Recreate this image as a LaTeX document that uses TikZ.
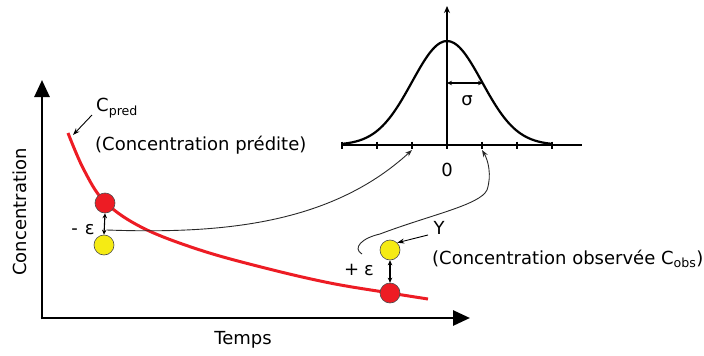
\documentclass[tikz,border=0pt]{standalone}
\usepackage{fontspec}
\setmainfont{DejaVu Sans}
\usetikzlibrary{arrows.meta}
\definecolor{predred}{RGB}{237,28,36}
\definecolor{obsyellow}{RGB}{245,235,20}
\definecolor{linkgray}{RGB}{40,40,40}
\begin{document}
\begin{tikzpicture}[x=1pt,y=-1pt,
  lbl/.style={font=\fontsize{18}{21}\selectfont, inner sep=0pt},
  mainaxis/.style={line width=2.8pt, -{Triangle[length=17pt,width=15pt]}},
  gaxis/.style={line width=1.8pt},
  ptred/.style={circle, draw=black!70, line width=0.6pt, fill=predred, minimum size=20pt, inner sep=0pt},
  ptyel/.style={circle, draw=black!70, line width=0.6pt, fill=obsyellow, minimum size=20pt, inner sep=0pt},
  dbl/.style={line width=1.1pt, {Stealth[length=5pt,width=4.5pt]}-{Stealth[length=5pt,width=4.5pt]}},
  link/.style={draw=linkgray, line width=0.9pt, -{Stealth[length=7pt,width=5pt]}},
  pointer/.style={line width=0.9pt, -{Stealth[length=7pt,width=5pt]}},
  curve/.style={draw=predred, line width=3pt}
]
\useasboundingbox (0,0) rectangle (704,356);

% main axes
\coordinate (O) at (42,318);
\coordinate (ytip) at (42,80);
\coordinate (xtip) at (470,318);
\draw[mainaxis] (42,319.4) -- (ytip);
\draw[mainaxis] (40.6,318) -- (xtip);
\node[lbl, rotate=90] (ylab) at (20,212) {Concentration};
\node[lbl] (xlab) at (243,340) {Temps};

% predicted concentration curve
\draw[curve] plot[smooth, tension=0.6] coordinates {(68,133) (84,170) (105,202) (143,228) (200,250) (265,268) (330,283) (390,293) (428,299)};

% gaussian
\coordinate (g0) at (447,145);
\draw[gaxis] (342,145) coordinate (gl) -- (582,145) coordinate (gr);
\draw[gaxis, -{Stealth[length=7pt,width=6pt]}] (g0) -- (447,6) coordinate (gtop);
\foreach \k/\n in {-3/m3,-2/m2,-1/m1,0/z,1/p1,2/p2,3/p3} {
  \draw[line width=1.3pt] (447+35*\k,141.5) -- (447+35*\k,148.5) coordinate (t\n);
  \coordinate (tick\n) at (447+35*\k,150);
}
\draw[line width=2.2pt] plot[smooth, domain=-3:3, samples=61] ({447+35*\x},{145-104*exp(-0.5*\x*\x)});
\draw[dbl, line width=1.4pt] (447,83) coordinate (sl) -- (483,83) coordinate (sr);
\node[lbl] (sigma) at (467,101) {σ};
\node[lbl] (zero) at (447,170) {0};

% points
\node[ptred] (r1) at (105,203) {};
\node[ptyel] (y1) at (104,245) {};
\node[ptred] (r2) at (390,293) {};
\node[ptyel] (y2) at (390,250) {};
\draw[dbl] (r1.south) -- (y1.north);
\draw[dbl] (y2.south) -- (r2.north);

% labels
\node[lbl, anchor=west] (cpred) at (96,108) {C\textsubscript{pred}};
\node[lbl, anchor=west] (cpredtxt) at (95,145) {(Concentration prédite)};
\coordinate (cpredtip) at (73,135);
\draw[pointer] (92,115) -- (cpredtip);

\node[lbl] (meps) at (83,230) {-\hspace{7pt}ε};
\node[lbl] (peps) at (359,270) {+\hspace{5pt}ε};
\node[lbl] (ylbl) at (439,228) {Y};
\node[lbl, anchor=west] (cobs) at (432,259) {(Concentration observée C\textsubscript{obs})};
\draw[pointer] (428,235) -- (y2.north east);

% connectors to gaussian
\draw[link] (meps.east) ++(12,0) .. controls (220,234) and (330,225) .. (tickm1);
\draw[link] (peps.north) ++(3,-10) .. controls (352,248) and (362,238) .. (380,234)
  .. controls (430,215) and (480,205) .. (487,190)
  .. controls (492,175) and (488,160) .. (tickp1);
\end{tikzpicture}
\end{document}
